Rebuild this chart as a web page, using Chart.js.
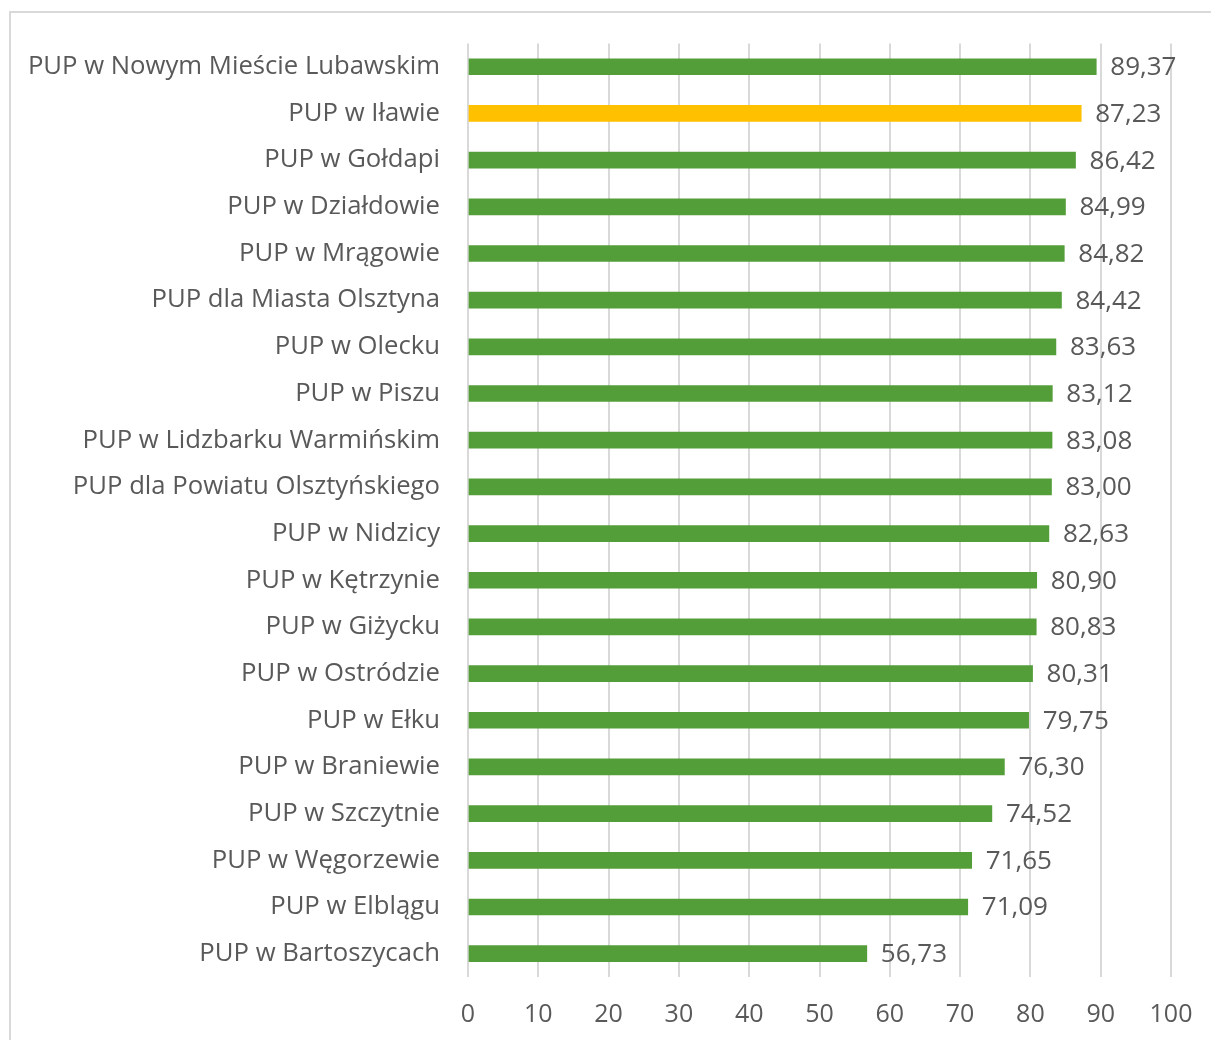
<!DOCTYPE html>
<html lang="pl">
<head>
    <meta charset="UTF-8">
    <title>PUP</title>
    <script src="https://cdn.jsdelivr.net/npm/chart.js"></script>
    <style>
        html, body { margin: 0; padding: 0; background: #fff; }
        #wrap { position: relative; width: 1211px; height: 1040px; }
        #frame { position: absolute; left: 9px; top: 11px; right: 0; bottom: 0;
                 border-left: 2px solid #d9d9d9; border-top: 2px solid #d9d9d9; }
        #pupChart { position: absolute; left: 0; top: 0; }
    </style>
</head>
<body>
<div id="wrap">
    <div id="frame"></div>
    <canvas id="pupChart" width="1211" height="1040"></canvas>
</div>
<script>
    // nazwy urzędów (od góry)
    const labels = [
        'PUP w Nowym Mieście Lubawskim', 'PUP w Iławie', 'PUP w Gołdapi', 'PUP w Działdowie',
        'PUP w Mrągowie', 'PUP dla Miasta Olsztyna', 'PUP w Olecku', 'PUP w Piszu',
        'PUP w Lidzbarku Warmińskim', 'PUP dla Powiatu Olsztyńskiego', 'PUP w Nidzicy',
        'PUP w Kętrzynie', 'PUP w Giżycku', 'PUP w Ostródzie', 'PUP w Ełku',
        'PUP w Braniewie', 'PUP w Szczytnie', 'PUP w Węgorzewie', 'PUP w Elblągu',
        'PUP w Bartoszycach'
    ];
    const values = [89.37, 87.23, 86.42, 84.99, 84.82, 84.42, 83.63, 83.12, 83.08, 83.00,
                    82.63, 80.90, 80.83, 80.31, 79.75, 76.30, 74.52, 71.65, 71.09, 56.73];
    const highlighted = 'PUP w Iławie';
    const xTicks = [0, 10, 20, 30, 40, 50, 60, 70, 80, 90, 100];

    const green = '#549e39';
    const yellow = '#ffc000';
    const textColor = '#595959';
    const fontFamily = "'Open Sans', sans-serif";

    // etykiety wartości za słupkami
    const valueLabels = {
        id: 'valueLabels',
        afterDatasetsDraw(chart) {
            const ctx = chart.ctx;
            const meta = chart.getDatasetMeta(0);
            ctx.save();
            ctx.font = '26px ' + fontFamily;
            ctx.fillStyle = textColor;
            ctx.textAlign = 'left';
            ctx.textBaseline = 'middle';
            meta.data.forEach((bar, i) => {
                ctx.fillText(values[i].toFixed(2).replace('.', ','), bar.x + 14, bar.y + 1);
            });
            ctx.restore();
        }
    };

    new Chart(document.getElementById('pupChart'), {
        type: 'bar',
        data: {
            labels: labels,
            datasets: [{
                data: values,
                backgroundColor: labels.map(l => l === highlighted ? yellow : green),
                barThickness: 16,
                borderWidth: 0
            }]
        },
        options: {
            indexAxis: 'y',
            responsive: false,
            animation: false,
            layout: { padding: { left: 0, right: 40, top: 41, bottom: 0 } },
            plugins: {
                legend: { display: false },
                tooltip: { enabled: false }
            },
            scales: {
                x: {
                    min: 0,
                    max: 100,
                    afterBuildTicks: scale => { scale.ticks = xTicks.map(v => ({ value: v })); },
                    afterFit: scale => {
                        scale.height = 63;
                        scale.paddingLeft = 0;
                        scale.paddingRight = 0;
                    },
                    grid: { color: '#d9d9d9', lineWidth: 2, drawTicks: false },
                    border: { display: false },
                    ticks: {
                        padding: 23,
                        color: textColor,
                        font: { family: fontFamily, size: 25 }
                    }
                },
                y: {
                    afterFit: scale => { scale.width = 468; },
                    grid: { display: false, drawTicks: false },
                    border: { display: false },
                    ticks: {
                        padding: 28,
                        color: textColor,
                        font: { family: fontFamily, size: 25.7 }
                    }
                }
            }
        },
        plugins: [valueLabels]
    });
</script>
</body>
</html>
